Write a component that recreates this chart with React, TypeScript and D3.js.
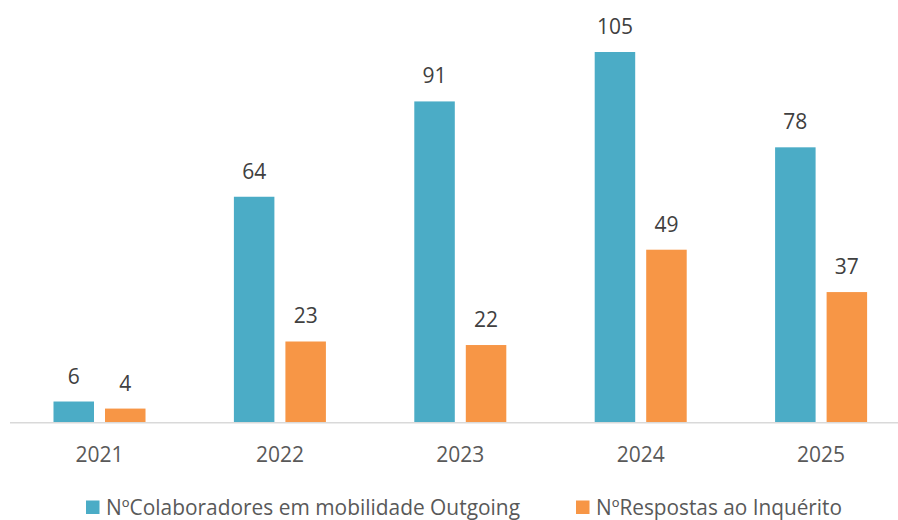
import React from "react";
import * as d3 from "d3";

const years = ["2021", "2022", "2023", "2024", "2025"];
const seriesNames = ["NºColaboradores em mobilidade Outgoing", "NºRespostas ao Inquérito"];
const colaboradores = [6, 64, 91, 105, 78];
const respostas = [4, 23, 22, 49, 37];
const colors = ["#4BACC6", "#F79646"];

export default function App() {
  const width = 898;
  const height = 520;
  const baseY = 422.7;
  const font = "'Open Sans', sans-serif";
  const fs = 21;

  const x0 = d3.scaleBand().domain(years).range([9.3, 911.3]);
  const x1 = d3
    .scaleBand()
    .domain(seriesNames)
    .range([0, x0.bandwidth()])
    .paddingInner(0.2136)
    .paddingOuter(0.858);
  const y = d3.scaleLinear().domain([0, 105]).range([baseY, 52]);

  const series = [colaboradores, respostas];

  const legendItems = [
    { box: 86, text: 106, len: 414 },
    { box: 576, text: 596, len: 246 },
  ];

  return (
    <svg
      width={width}
      height={height}
      style={{ position: "absolute", left: 0, top: 0 }}
      fontFamily={font}
    >
      <rect width={width} height={height} fill="#fff" />
      {series.map((vals, si) =>
        vals.map((v, i) => {
          const bx = (x0(years[i]) as number) + (x1(seriesNames[si]) as number);
          return (
            <g key={`${si}-${i}`}>
              <rect
                x={bx}
                y={y(v)}
                width={x1.bandwidth()}
                height={baseY - y(v)}
                fill={colors[si]}
              />
              <text
                x={bx + x1.bandwidth() / 2}
                y={y(v) - 18}
                textAnchor="middle"
                fontSize={fs}
                fill="#404040"
              >
                {v}
              </text>
            </g>
          );
        })
      )}
      <line x1={10} x2={898} y1={baseY} y2={baseY} stroke="#D9D9D9" strokeWidth={1.5} />
      {years.map((yr) => (
        <text
          key={yr}
          x={(x0(yr) as number) + x0.bandwidth() / 2}
          y={462}
          textAnchor="middle"
          fontSize={fs}
          fill="#595959"
        >
          {yr}
        </text>
      ))}
      {seriesNames.map((name, i) => (
        <g key={name}>
          <rect x={legendItems[i].box} y={500.5} width={13.5} height={13.5} fill={colors[i]} />
          <text
            x={legendItems[i].text}
            y={515}
            fontSize={fs}
            fill="#595959"
            textLength={legendItems[i].len}
            lengthAdjust="spacingAndGlyphs"
          >
            {name}
          </text>
        </g>
      ))}
    </svg>
  );
}
